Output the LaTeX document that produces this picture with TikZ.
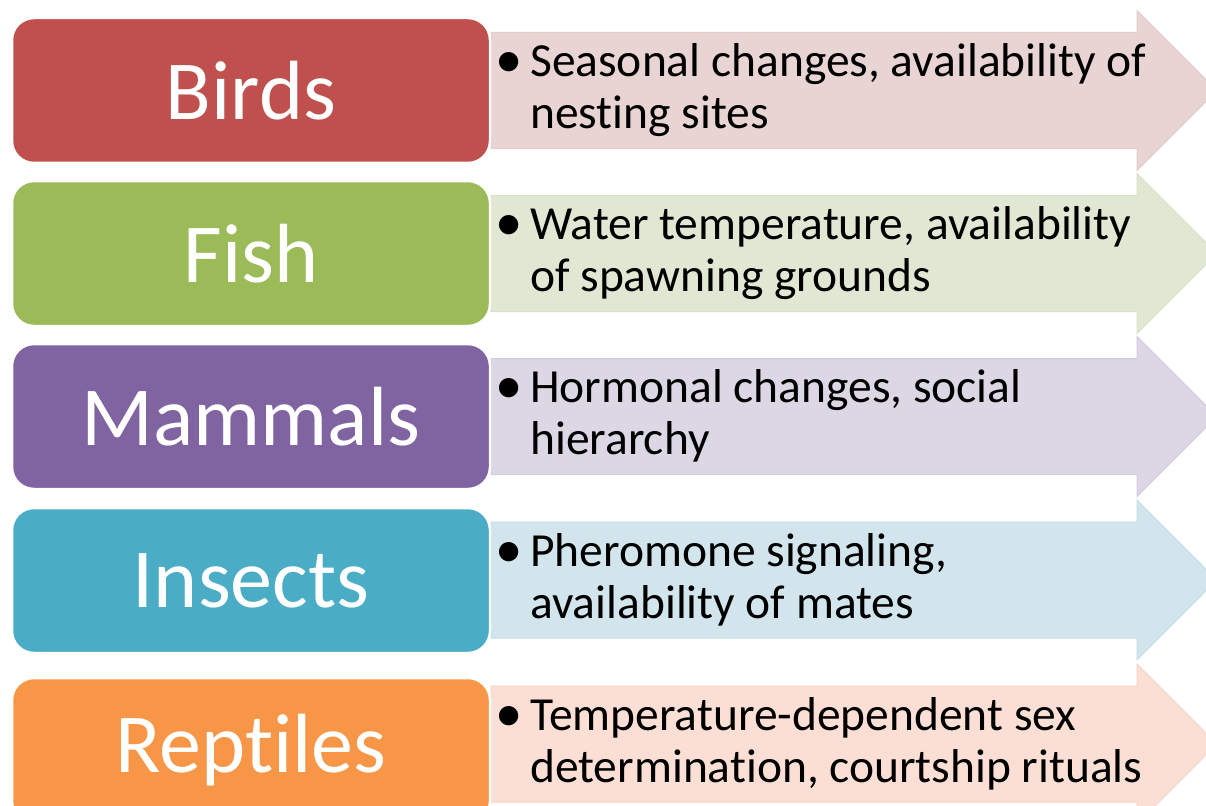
\documentclass[tikz,border=0pt]{standalone}
\usepackage{fontspec}
\setmainfont[Ligatures={NoCommon}]{Carlito}
\definecolor{cBirds}{HTML}{C0504D}
\definecolor{aBirds}{HTML}{E9D4D4}
\definecolor{oBirds}{HTML}{E4CACA}
\definecolor{cFish}{HTML}{9BBB59}
\definecolor{aFish}{HTML}{E0E8D4}
\definecolor{oFish}{HTML}{D7E2C6}
\definecolor{cMam}{HTML}{8064A2}
\definecolor{aMam}{HTML}{DCD7E4}
\definecolor{oMam}{HTML}{D2CCDE}
\definecolor{cIns}{HTML}{4BACC6}
\definecolor{aIns}{HTML}{D2E5EC}
\definecolor{oIns}{HTML}{C6DEE7}
\definecolor{cRep}{HTML}{F79646}
\definecolor{aRep}{HTML}{FBDFD4}
\definecolor{oRep}{HTML}{F8D3C5}
\newcommand\bandarrow[3]{%
  \path[fill=#2, draw=#3, line width=1pt, line join=miter]
    (491,{#1-58}) -- (1137,{#1-58}) -- (1137,{#1-80}) -- (1217,#1)
    -- (1137,{#1+80}) -- (1137,{#1+58}) -- (491,{#1+58}) -- cycle;}
\newcommand\bul{\makebox[30pt][l]{\hspace{-5pt}\raisebox{-1pt}{\scalebox{1.15}{•}}}}
\begin{document}
\begin{tikzpicture}[x=1pt,y=-1pt,
  catbox/.style={rounded corners=22pt, draw=white, line width=2.5pt,
    minimum width=478pt, minimum height=145pt, inner sep=0pt,
    text=white, font=\fontsize{84}{98}\selectfont},
  desc/.style={anchor=west, inner sep=0pt, text=black,
    font=\fontsize{47.5}{52}\selectfont}]
\useasboundingbox (0,0) rectangle (1206,805);
\clip (0,0) rectangle (1206,805);
\fill[white] (0,0) rectangle (1206,805);
% arrows
\bandarrow{90.5}{aBirds}{oBirds}
\bandarrow{253.5}{aFish}{oFish}
\bandarrow{416.5}{aMam}{oMam}
\bandarrow{580}{aIns}{oIns}
\bandarrow{744}{aRep}{oRep}
% boxes
\node[catbox, fill=cBirds] (birds) at (251,90.5) {Birds};
\node[catbox, fill=cFish] (fish) at (251,253.5) {Fish};
\node[catbox, fill=cMam] (mammals) at (251,416.5) {Mammals};
\node[catbox, fill=cIns] (insects) at (251,580.5) {Insects};
\node[catbox, fill=cRep] (reptiles) at (251,750.5) {Reptiles};
% descriptions
\node[desc] (tbirds) at (500,92.5) {\begin{tabular}{@{}l@{}l@{}}\bul & Seasonal changes, availability of\\ & nesting sites\end{tabular}};
\node[desc] (tfish) at (500,255.5) {\begin{tabular}{@{}l@{}l@{}}\bul & Water temperature, availability\\ & of spawning grounds\end{tabular}};
\node[desc] (tmam) at (500,418.5) {\begin{tabular}{@{}l@{}l@{}}\bul & Hormonal changes, social\\ & hierarchy\end{tabular}};
\node[desc] (tins) at (500,582) {\begin{tabular}{@{}l@{}l@{}}\bul & Pheromone signaling,\\ & availability of mates\end{tabular}};
\node[desc] (trep) at (500,746) {\begin{tabular}{@{}l@{}l@{}}\bul & Temperature-dependent sex\\ & determination, courtship rituals\end{tabular}};
\end{tikzpicture}
\end{document}
